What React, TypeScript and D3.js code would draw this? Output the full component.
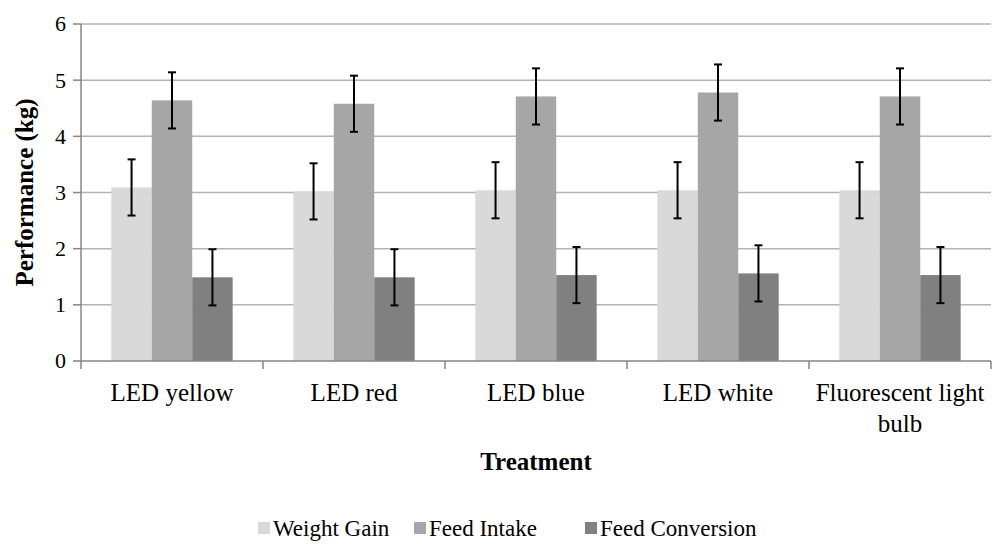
import * as d3 from "d3";

const treatments = ["LED yellow", "LED red", "LED blue", "LED white", "Fluorescent light bulb"];
const treatmentLines = [["LED yellow"], ["LED red"], ["LED blue"], ["LED white"], ["Fluorescent light", "bulb"]];
const seriesNames = ["Weight Gain", "Feed Intake", "Feed Conversion"];
const weightGain = [3.09, 3.02, 3.04, 3.04, 3.04];
const feedIntake = [4.64, 4.58, 4.71, 4.78, 4.71];
const feedConversion = [1.49, 1.49, 1.53, 1.56, 1.53];
const errorSize = [0.5, 0.5, 0.5];
const yTicks = [0, 1, 2, 3, 4, 5, 6];
const colors = ["#d9d9d9", "#a6a6a6", "#808080"];

const FONT = "Liberation Serif";
const AXIS = "#868686";

const margin = { top: 24, right: 1, bottom: 183, left: 81 };
const width = 992 - margin.left - margin.right;
const height = 544 - margin.top - margin.bottom;

export default function App() {
    const series = [weightGain, feedIntake, feedConversion];

    const x = d3.scaleBand().domain(treatments).range([0, width]).paddingInner(0).paddingOuter(0);
    // excel-style gap width 150%
    const inner = d3.scaleBand().domain(seriesNames).range([0, x.bandwidth()]).paddingInner(0).paddingOuter(0.75);
    const y = d3.scaleLinear().domain([0, 6]).range([height, 0]);
    const fmt = d3.format("d");

    const legendX = [258, 414, 585];

    return (
        <div>
            <svg width={992} height={544} style={{ position: "absolute", left: 0, top: 0, background: "#fff", fontFamily: FONT }}>
                <g transform={`translate(${margin.left},${margin.top})`}>
                    {/* gridlines */}
                    {yTicks.slice(1).map(t => (
                        <line key={t} x1={0} x2={width} y1={y(t)} y2={y(t)} stroke="#b3b3b3" strokeWidth={1.5} />
                    ))}

                    {/* bars */}
                    {series.map((vals, si) => (
                        <g key={si}>
                            {vals.map((d, i) => (
                                <rect
                                    key={i}
                                    x={x(treatments[i])! + inner(seriesNames[si])!}
                                    y={y(d)}
                                    width={inner.bandwidth()}
                                    height={height - y(d)}
                                    fill={colors[si]}
                                />
                            ))}
                        </g>
                    ))}

                    {/* error bars */}
                    {series.map((vals, si) => (
                        <g key={"e" + si} stroke="#000" strokeWidth={2}>
                            {vals.map((d, i) => {
                                const cx = x(treatments[i])! + inner(seriesNames[si])! + inner.bandwidth() / 2;
                                const top = y(d + errorSize[si]);
                                const bot = y(d - errorSize[si]);
                                return (
                                    <g key={i}>
                                        <line x1={cx} x2={cx} y1={top} y2={bot} />
                                        <line x1={cx - 4} x2={cx + 4} y1={top} y2={top} />
                                        <line x1={cx - 4} x2={cx + 4} y1={bot} y2={bot} />
                                    </g>
                                );
                            })}
                        </g>
                    ))}

                    {/* y axis */}
                    <line x1={0} x2={0} y1={0} y2={height} stroke={AXIS} strokeWidth={1.5} />
                    {yTicks.map(t => (
                        <g key={t} transform={`translate(0,${y(t)})`}>
                            <line x1={-8} x2={0} stroke={AXIS} strokeWidth={1.5} />
                            <text x={-15} dy="0.34em" textAnchor="end" style={{ fontFamily: FONT, fontSize: 22 }}>{fmt(t)}</text>
                        </g>
                    ))}

                    {/* x axis */}
                    <g transform={`translate(0,${height})`}>
                        <line x1={0} x2={width} stroke={AXIS} strokeWidth={1.5} />
                        {d3.range(treatments.length + 1).map(k => (
                            <line key={k} x1={k * x.step()} x2={k * x.step()} y1={0} y2={8} stroke={AXIS} strokeWidth={1.5} />
                        ))}
                        {treatments.map((t, i) => (
                            <text key={t} textAnchor="middle" style={{ fontFamily: FONT, fontSize: 25 }}>
                                {treatmentLines[i].map((l, li) => (
                                    <tspan key={li} x={x(t)! + x.bandwidth() / 2} y={40 + li * 31}>{l}</tspan>
                                ))}
                            </text>
                        ))}
                    </g>
                </g>

                {/* axis titles */}
                <text x={margin.left + width / 2} y={470} textAnchor="middle" style={{ fontFamily: FONT, fontSize: 25, fontWeight: "bold" }}>
                    Treatment
                </text>
                <text
                    transform={`translate(33,${margin.top + height / 2}) rotate(-90)`}
                    textAnchor="middle"
                    style={{ fontFamily: FONT, fontSize: 25, fontWeight: "bold" }}
                >
                    Performance (kg)
                </text>

                {/* legend */}
                {seriesNames.map((s, i) => (
                    <g key={s}>
                        <rect x={legendX[i]} y={522} width={12} height={12} fill={colors[i]} />
                        <text x={legendX[i] + 15} y={536} style={{ fontFamily: FONT, fontSize: 23 }}>{s}</text>
                    </g>
                ))}
            </svg>
        </div>
    );
}
